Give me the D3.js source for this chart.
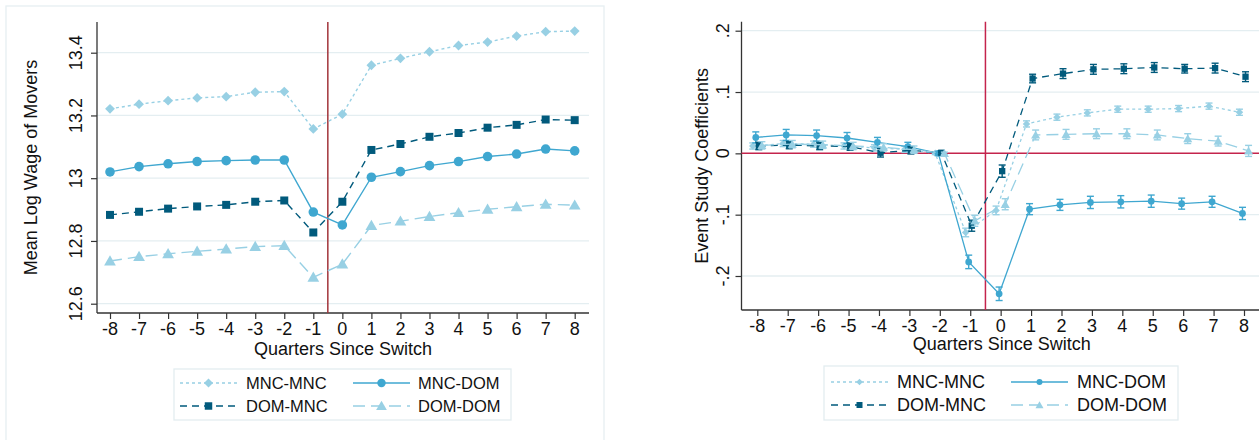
<!DOCTYPE html>
<html><head><meta charset="utf-8">
<script src="https://cdn.jsdelivr.net/npm/d3@7"></script>
<style>
html,body{margin:0;padding:0;background:#fff;}
svg{display:block;font-family:"Liberation Sans",Arial,sans-serif;}
</style></head>
<body>
<svg id="chart" width="1259" height="440"></svg>
<script>
// ---------- data ----------
const quarters = [-8,-7,-6,-5,-4,-3,-2,-1,0,1,2,3,4,5,6,7,8];
const seriesNames = ["MNC-MNC","MNC-DOM","DOM-MNC","DOM-DOM"];

// Left panel: mean log wage of movers
const wageMncMnc = [13.221,13.236,13.247,13.256,13.260,13.274,13.276,13.157,13.204,13.360,13.382,13.403,13.423,13.434,13.453,13.467,13.469];
const wageMncDom = [13.020,13.037,13.046,13.053,13.056,13.058,13.058,12.892,12.851,13.003,13.021,13.040,13.053,13.069,13.077,13.093,13.087];
const wageDomMnc = [12.883,12.893,12.903,12.910,12.915,12.925,12.929,12.827,12.925,13.090,13.109,13.132,13.144,13.161,13.170,13.187,13.185];
const wageDomDom = [12.736,12.750,12.759,12.767,12.774,12.782,12.785,12.684,12.726,12.849,12.863,12.878,12.890,12.901,12.909,12.917,12.914];

// Right panel: event study coefficients
const coefMncMnc = [0.012,0.016,0.015,0.012,0.009,0.0065,0.0,-0.129,-0.093,0.048,0.059,0.066,0.072,0.072,0.073,0.077,0.067];
const coefMncDom = [0.026,0.030,0.029,0.025,0.018,0.011,0.0,-0.177,-0.229,-0.091,-0.084,-0.080,-0.079,-0.078,-0.082,-0.079,-0.098];
const coefDomMnc = [0.012,0.0135,0.012,0.011,0.001,0.005,0.001,-0.118,-0.029,0.122,0.130,0.137,0.138,0.140,0.138,0.139,0.125];
const coefDomDom = [0.013,0.015,0.014,0.012,0.010,0.006,0.0,-0.110,-0.083,0.030,0.031,0.032,0.032,0.030,0.024,0.020,0.004];
// 95% CI half-widths
const ciMncMnc = [0.005,0.005,0.005,0.005,0.005,0.005,0.002,0.007,0.007,0.005,0.005,0.005,0.005,0.005,0.005,0.005,0.005];
const ciMncDom = [0.009,0.009,0.009,0.009,0.008,0.007,0.003,0.011,0.011,0.009,0.009,0.010,0.010,0.010,0.009,0.009,0.010];
const ciDomMnc = [0.006,0.006,0.006,0.006,0.007,0.006,0.003,0.009,0.010,0.007,0.008,0.008,0.008,0.008,0.007,0.008,0.008];
const ciDomDom = [0.006,0.006,0.006,0.006,0.006,0.006,0.002,0.009,0.009,0.008,0.008,0.008,0.008,0.008,0.008,0.008,0.009];

const leftTicksY = [12.6,12.8,13,13.2,13.4];
const leftTickLabelsY = ["12.6","12.8","13","13.2","13.4"];
const rightTicksY = [-0.2,-0.1,0,0.1,0.2];
const rightTickLabelsY = ["-.2","-.1","0",".1",".2"];
const xTitle = "Quarters Since Switch";
const leftYTitle = "Mean Log Wage of Movers";
const rightYTitle = "Event Study Coefficients";

// ---------- styles ----------
const colLight = "#98d0e4", colMid = "#3fa7d0", colDark = "#015a7c";
const styles = [
  {color:colLight, dash:"3,3",  shape:"diamond"},
  {color:colMid,   dash:null,   shape:"circle"},
  {color:colDark,  dash:"7,5",  shape:"square"},
  {color:colLight, dash:"12,6", shape:"triangle"}
];
const gridCol = "#e4eef1", axisCol = "#333";

const svg = d3.select("#chart");

function symbolPath(shape, size){
  const t = shape==="circle"?d3.symbolCircle:shape==="square"?d3.symbolSquare:shape==="triangle"?d3.symbolTriangle:d3.symbolSquare;
  return d3.symbol(t, size)();
}
function drawMarker(g, shape, x, y, size, color){
  const p = g.append("path").attr("d", symbolPath(shape,size)).attr("fill",color).attr("stroke","none");
  if(shape==="diamond") p.attr("transform",`translate(${x},${y}) rotate(45)`);
  else if(shape==="triangle") p.attr("transform",`translate(${x},${y+1})`);
  else p.attr("transform",`translate(${x},${y})`);
}

function drawPanel(cfg){
  const g = svg.append("g");
  const x = d3.scaleLinear().domain([-8,8]).range([cfg.x8l, cfg.x8r]);
  const y = d3.scaleLinear().domain(cfg.yDom).range(cfg.yRange);
  const left = cfg.axisLeft, right = cfg.axisRight, top = cfg.top, bottom = cfg.bottom;

  // gridlines
  g.selectAll(".grid").data(cfg.ticksY.filter(v=>!(cfg.zeroLine && v===0))).enter().append("line")
    .attr("x1",left).attr("x2",right).attr("y1",d=>y(d)).attr("y2",d=>y(d))
    .attr("stroke",gridCol).attr("stroke-width",1.3);

  // y axis with d3 axis
  const yAxis = d3.axisLeft(y).tickValues(cfg.ticksY).tickFormat((d,i)=>cfg.tickLabelsY[i]).tickSize(6).tickPadding(0);
  const ya = g.append("g").attr("transform",`translate(${left},0)`).call(yAxis);
  ya.select(".domain").remove();
  ya.selectAll(".tick line").attr("stroke",axisCol).attr("stroke-width",1.2);
  ya.selectAll(".tick text").remove();
  g.append("line").attr("x1",left).attr("x2",left).attr("y1",top).attr("y2",bottom).attr("stroke",axisCol).attr("stroke-width",1.3);
  cfg.ticksY.forEach((v,i)=>{
    g.append("text").attr("transform",`translate(${cfg.yLabX},${y(v)}) rotate(-90)`)
      .attr("text-anchor","middle").attr("font-size",cfg.tickFont).attr("fill","#111").text(cfg.tickLabelsY[i]);
  });

  // x axis
  const xAxis = d3.axisBottom(x).tickValues(quarters).tickFormat(d3.format("d")).tickSize(6).tickPadding(0);
  const xa = g.append("g").attr("transform",`translate(0,${bottom})`).call(xAxis);
  xa.select(".domain").remove();
  xa.selectAll(".tick line").attr("stroke",axisCol).attr("stroke-width",1.2);
  xa.selectAll(".tick text").remove();
  g.append("line").attr("x1",left).attr("x2",right).attr("y1",bottom).attr("y2",bottom).attr("stroke",axisCol).attr("stroke-width",1.3);
  quarters.forEach(q=>{
    g.append("text").attr("x",x(q)).attr("y",cfg.xLabY).attr("text-anchor","middle")
      .attr("font-size",cfg.tickFont).attr("fill","#111").text(q);
  });

  // axis titles
  g.append("text").attr("x",(left+right)/2).attr("y",cfg.xTitleY).attr("text-anchor","middle")
    .attr("font-size",18).attr("fill","#111").text(xTitle);
  g.append("text").attr("transform",`translate(${cfg.yTitleX},${(top+bottom)/2}) rotate(-90)`)
    .attr("text-anchor","middle").attr("font-size",18).attr("fill","#111").text(cfg.yTitle);

  // reference lines
  if(cfg.zeroLine){
    g.append("line").attr("x1",left).attr("x2",right).attr("y1",y(0)).attr("y2",y(0))
      .attr("stroke",cfg.refCol).attr("stroke-width",1.5);
  }
  g.append("line").attr("x1",x(-0.5)).attr("x2",x(-0.5)).attr("y1",top).attr("y2",bottom)
    .attr("stroke",cfg.refCol).attr("stroke-width",1.5);

  // series
  const line = d3.line();
  cfg.series.forEach((vals,si)=>{
    const st = styles[si];
    const off = cfg.offsets[si];
    const pts = quarters.map((q,i)=>[x(q+off), y(vals[i])]);
    if(cfg.ci){
      const ci = cfg.ci[si];
      quarters.forEach((q,i)=>{
        const xx = x(q+off), y1 = y(vals[i]-ci[i]), y2 = y(vals[i]+ci[i]);
        g.append("line").attr("x1",xx).attr("x2",xx).attr("y1",y1).attr("y2",y2).attr("stroke",st.color).attr("stroke-width",1.4);
        [y1,y2].forEach(yy=>g.append("line").attr("x1",xx-3.5).attr("x2",xx+3.5).attr("y1",yy).attr("y2",yy).attr("stroke",st.color).attr("stroke-width",1.4));
      });
    }
    g.append("path").attr("d",line(pts)).attr("fill","none").attr("stroke",st.color)
      .attr("stroke-width",cfg.lineW).attr("stroke-dasharray",st.dash);
    pts.forEach(p=>drawMarker(g, st.shape, p[0], p[1], cfg.markerSize[st.shape], st.color));
  });

  // legend
  const L = cfg.legend;
  g.append("rect").attr("x",L.x).attr("y",L.y).attr("width",L.w).attr("height",L.h)
    .attr("fill","#fff").attr("stroke","#e3edf0").attr("stroke-width",1.3);
  seriesNames.forEach((name,si)=>{
    const st = styles[si];
    const col = si%2, row = Math.floor(si/2);
    const kx = L.keyX[col], ky = L.rowY[row];
    g.append("line").attr("x1",kx).attr("x2",kx+L.keyW).attr("y1",ky).attr("y2",ky)
      .attr("stroke",st.color).attr("stroke-width",1.3).attr("stroke-dasharray",st.dash);
    drawMarker(g, st.shape, kx+L.keyW/2, ky, L.markerSize[st.shape], st.color);
    g.append("text").attr("x",L.textX[col]).attr("y",ky+L.font*0.36).attr("font-size",L.font)
      .attr("fill","#111").text(name);
  });
}

// left panel frame
svg.append("rect").attr("x",6).attr("y",6).attr("width",598).attr("height",450)
  .attr("fill","#fff").attr("stroke","#e6eff2").attr("stroke-width",1.3);

drawPanel({
  x8l:110, x8r:574.7, axisLeft:97, axisRight:589, top:22, bottom:313,
  yDom:[12.6,13.4], yRange:[303.7,52.7],
  ticksY:leftTicksY, tickLabelsY:leftTickLabelsY, tickFont:18,
  yLabX:82, xLabY:335, xTitleY:355, yTitleX:37, yTitle:leftYTitle,
  refCol:"#a2343a", zeroLine:false,
  series:[wageMncMnc,wageMncDom,wageDomMnc,wageDomDom],
  offsets:[0,0,0,0], ci:null, lineW:1.4,
  markerSize:{circle:72, square:64, diamond:48, triangle:60},
  legend:{x:174,y:369,w:337,h:51,keyX:[180,353],keyW:57,rowY:[383,406],textX:[246,418],font:16.5,
    markerSize:{circle:56, square:56, diamond:40, triangle:50}}
});

drawPanel({
  x8l:757.3, x8r:1244, axisLeft:741.5, axisRight:1262, top:21.7, bottom:310,
  yDom:[-0.2,0.2], yRange:[276,30.7],
  ticksY:rightTicksY, tickLabelsY:rightTickLabelsY, tickFont:18,
  yLabX:729, xLabY:332, xTitleY:350, yTitleX:708, yTitle:rightYTitle,
  refCol:"#c4244c", zeroLine:true,
  series:[coefMncMnc,coefMncDom,coefDomMnc,coefDomDom],
  offsets:[-0.15,-0.05,0.05,0.15], ci:[ciMncMnc,ciMncDom,ciDomMnc,ciDomDom], lineW:1.3,
  markerSize:{circle:36, square:40, diamond:28, triangle:36},
  legend:{x:824,y:366,w:354,h:54,keyX:[831,1011],keyW:57,rowY:[382,405],textX:[897,1077],font:18,
    markerSize:{circle:28, square:36, diamond:22, triangle:28}}
});
</script>
</body></html>
